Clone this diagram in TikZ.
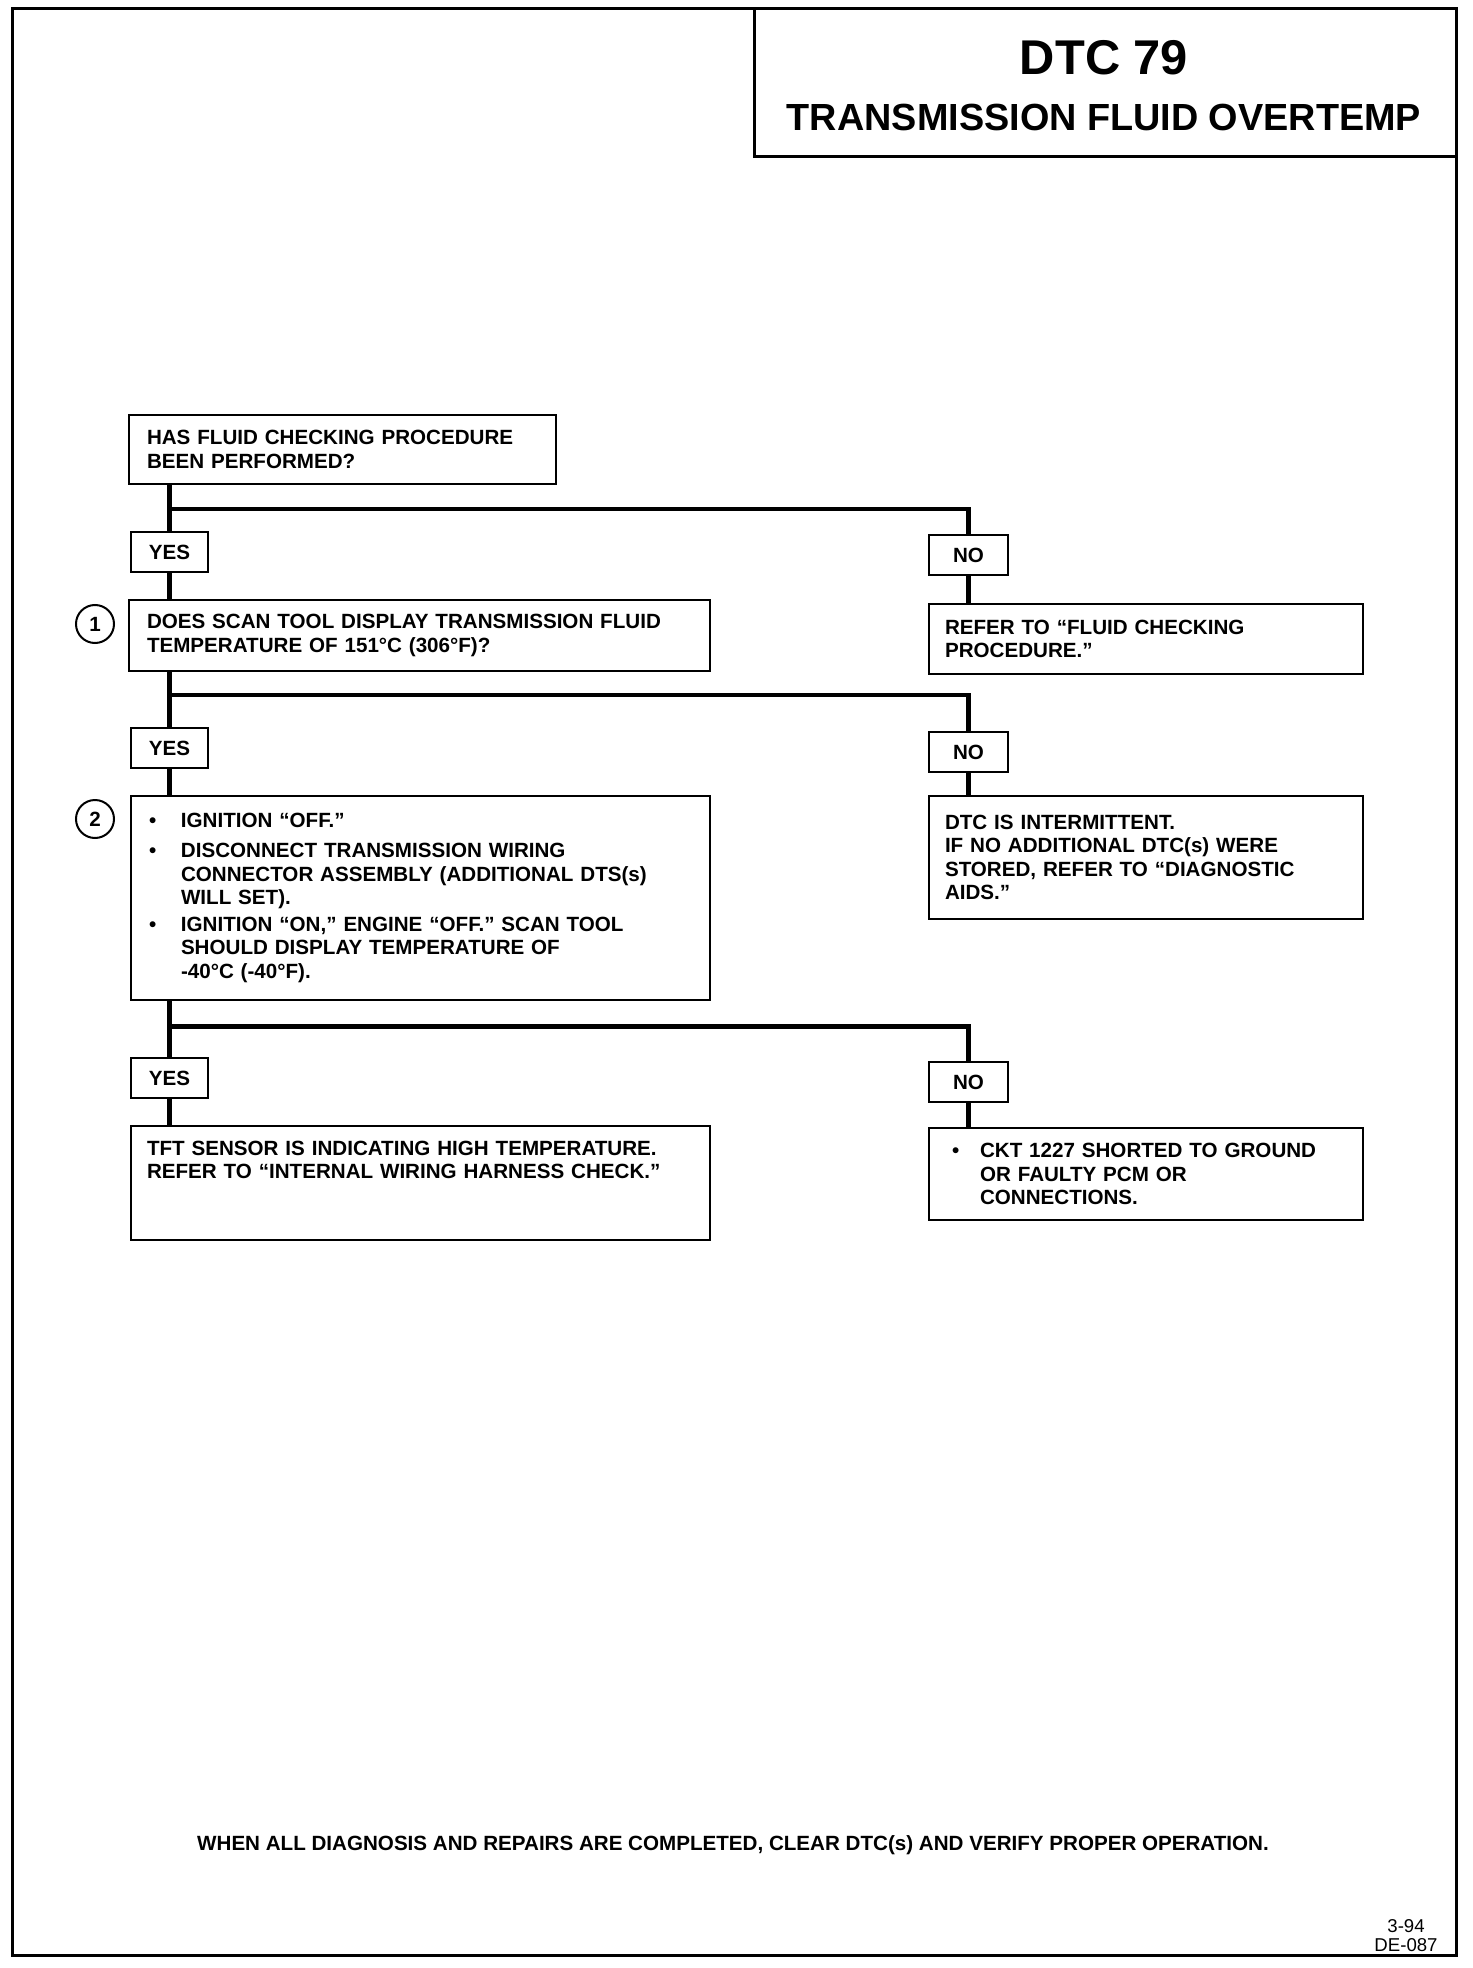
\documentclass[tikz,border=0pt]{standalone}
\usepackage{fontspec}
\setmainfont{Liberation Sans}
\newcommand\bodyfont{\fontsize{10.3pt}{11.6pt}\selectfont\bfseries}
\newcommand\bul[3][16pt]{\noindent\makebox[#1][l]{•}\parbox[t]{#2}{\raggedright #3}\par}
\begin{document}
\begin{tikzpicture}[x=0.5pt,y=-0.5pt,
  frame/.style={line width=1.5pt},
  box/.style={draw, line width=1.4pt, rectangle, align=left, inner ysep=0pt, font=\bodyfont},
  lbl/.style={draw, line width=1.4pt, rectangle, inner sep=0pt, font=\bodyfont, align=center},
  conn/.style={line width=2.3pt},
  num/.style={draw, circle, line width=1pt, inner sep=0pt, minimum size=19pt, font=\bodyfont}]
\useasboundingbox (0,0) rectangle (1472,1968);
% page frame
\draw[frame] (12,9) rectangle (1456,1955);
% title
\node[draw, frame, rectangle, minimum width=351pt, minimum height=74pt, inner sep=0pt] (titlebox) at (1105,83) {};
\node[font=\fontsize{24.4pt}{26pt}\selectfont\bfseries, inner sep=0pt] (dtc) at (1104,58) {DTC 79};
\node[font=\fontsize{18.9pt}{20pt}\selectfont\bfseries, inner sep=0pt] (ttl) at (1104,117) {TRANSMISSION FLUID OVERTEMP};

% boxes
\node[box, inner xsep=9pt, text width=195.5pt, minimum height=34.5pt] (A) at (342.5,449.5)
  {HAS FLUID CHECKING PROCEDURE\\BEEN PERFORMED?};
\node[box, inner xsep=9pt, text width=272.5pt, minimum height=35.5pt] (B) at (419.5,635.5)
  {DOES SCAN TOOL DISPLAY TRANSMISSION FLUID\\TEMPERATURE OF 151°C (306°F)?};
\node[box, inner xsep=8pt, text width=201pt, minimum height=35pt] (C) at (1146,639)
  {REFER TO “FLUID CHECKING\\PROCEDURE.”};
\node[box, inner xsep=9pt, text width=271.5pt, minimum height=102pt] (D) at (420.5,898)
  {\setlength{\parskip}{3.4pt}%
   \bul{250pt}{IGNITION “OFF.”}%
   \bul{250pt}{DISCONNECT TRANSMISSION WIRING\\CONNECTOR ASSEMBLY (ADDITIONAL DTS(s)\\WILL SET).}%
   \bul{250pt}{IGNITION “ON,” ENGINE “OFF.” SCAN TOOL\\SHOULD DISPLAY TEMPERATURE OF\\-40°C (-40°F).}};
\node[box, inner xsep=8pt, text width=201pt, minimum height=61.5pt] (E) at (1146,857.5)
  {DTC IS INTERMITTENT.\\IF NO ADDITIONAL DTC(s) WERE\\STORED, REFER TO “DIAGNOSTIC\\AIDS.”};
\node[box, inner xsep=8pt, text width=273.5pt, minimum height=57pt] (F) at (420.5,1183)
  {TFT SENSOR IS INDICATING HIGH TEMPERATURE.\\REFER TO “INTERNAL WIRING HARNESS CHECK.”\\ \mbox{}\\ \mbox{}};
\node[box, inner xsep=11.5pt, text width=194pt, minimum height=46pt] (G) at (1146,1174)
  {\bul[14pt]{178pt}{CKT 1227 SHORTED TO GROUND\\OR FAULTY PCM OR\\CONNECTIONS.}};

% yes / no labels
\node[lbl, minimum width=38.5pt, minimum height=20pt] (yes1) at (169.5,552) {YES};
\node[lbl, minimum width=39.5pt, minimum height=20pt] (no1) at (968.5,555) {NO};
\node[lbl, minimum width=38.5pt, minimum height=20pt] (yes2) at (169.5,748) {YES};
\node[lbl, minimum width=39.5pt, minimum height=20pt] (no2) at (968.5,752) {NO};
\node[lbl, minimum width=38.5pt, minimum height=20pt] (yes3) at (169.5,1078) {YES};
\node[lbl, minimum width=39.5pt, minimum height=20pt] (no3) at (968.5,1082) {NO};

% step numbers
\node[num] (n1) at (95,624) {1};
\node[num] (n2) at (95,819) {2};

% junctions
\coordinate (j1) at (169.5,509);
\coordinate (j2) at (169.5,695);
\coordinate (j3) at (169.5,1026.5);

% connectors
\draw[conn] (A.south -| yes1) -- (yes1.north);
\draw[conn] (j1) -| (no1.north);
\draw[conn] (yes1.south) -- (yes1.south |- B.north);
\draw[conn] (no1.south) -- (no1.south |- C.north);

\draw[conn] (B.south -| yes2) -- (yes2.north);
\draw[conn] (j2) -| (no2.north);
\draw[conn] (yes2.south) -- (yes2.south |- D.north);
\draw[conn] (no2.south) -- (no2.south |- E.north);

\draw[conn] (D.south -| yes3) -- (yes3.north);
\draw[conn] (j3) -| (no3.north);
\draw[conn] (yes3.south) -- (yes3.south |- F.north);
\draw[conn] (no3.south) -- (no3.south |- G.north);

% footer
\node[font=\bodyfont, anchor=base, inner sep=0pt] (foot) at (733,1850)
  {WHEN ALL DIAGNOSIS AND REPAIRS ARE COMPLETED, CLEAR DTC(s) AND VERIFY PROPER OPERATION.};
\node[font=\fontsize{9.3pt}{9.5pt}\selectfont, align=center, inner sep=0pt] (code) at (1406,1936)
  {3-94\\DE-087};
\end{tikzpicture}
\end{document}
